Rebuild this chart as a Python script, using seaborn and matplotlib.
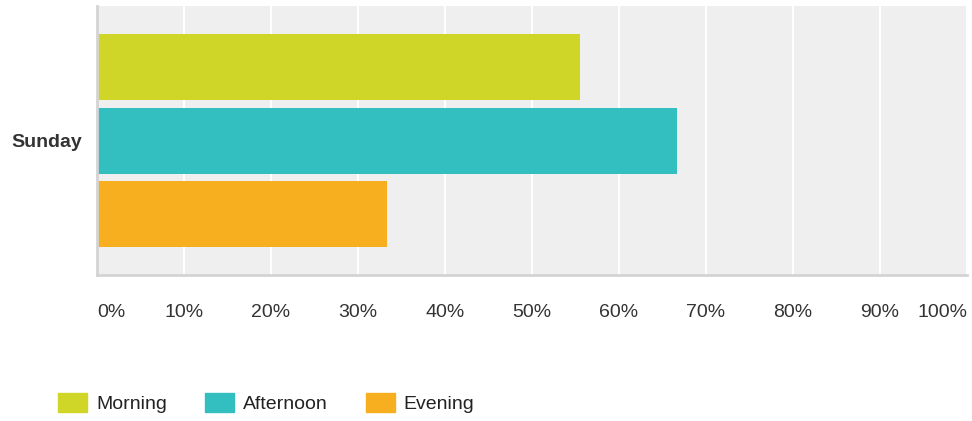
import pandas as pd
import seaborn as sns
import matplotlib.pyplot as plt
from matplotlib.patches import Patch

days = ['Sunday']
slots = ['Morning', 'Afternoon', 'Evening']
values = [55.56, 66.67, 33.33]
tick_labels = ['0%', '10%', '20%', '30%', '40%', '50%', '60%', '70%', '80%', '90%', '100%']
colors = ['#cfd627', '#33bec0', '#f7af1f']

df = pd.DataFrame({'day': days * len(slots), 'slot': slots, 'value': values})

sns.set_style('white')
plt.rcParams['font.family'] = ['Liberation Sans', 'DejaVu Sans']

fig = plt.figure(figsize=(9.72, 4.21), dpi=100)
ax = fig.add_axes([0.0998, 0.3468, 0.8951, 0.6389])
ax.set_facecolor('#efefef')

sns.barplot(data=df, y='day', x='value', hue='slot', hue_order=slots,
            palette=colors, orient='h', width=0.8, gap=0.1,
            saturation=1, linewidth=0, legend=False, ax=ax)

ax.set_xlim(0, 100)
ax.set_ylim(0.489, -0.489)
ax.set_xticks(range(0, 101, 10))
ax.set_xticklabels(tick_labels)
labels = ax.get_xticklabels()
labels[0].set_horizontalalignment('left')
labels[-1].set_horizontalalignment('right')
ax.tick_params(axis='x', length=0, pad=21, labelsize=14, labelcolor='#333333')
ax.tick_params(axis='y', length=0, pad=11, labelsize=14)
for t in ax.get_yticklabels():
    t.set_fontweight('bold')
    t.set_color('#333333')
ax.set_xlabel('')
ax.set_ylabel('')

ax.grid(axis='x', color='white', linewidth=1.5)
ax.set_axisbelow(True)
for s in ['top', 'right']:
    ax.spines[s].set_visible(False)
for s in ['left', 'bottom']:
    ax.spines[s].set_color('#d4d4d4')
    ax.spines[s].set_linewidth(2)

handles = [Patch(facecolor=c, edgecolor=c, label=l) for c, l in zip(colors, slots)]
leg = fig.legend(handles=handles, loc='center left', bbox_to_anchor=(0.042, 0.043),
                 ncol=3, frameon=False, fontsize=14, handlelength=1.5,
                 handleheight=1.1, handletextpad=0.45, columnspacing=1.95)
for t in leg.get_texts():
    t.set_color('#222222')

fig.savefig('out.png', dpi=100)
